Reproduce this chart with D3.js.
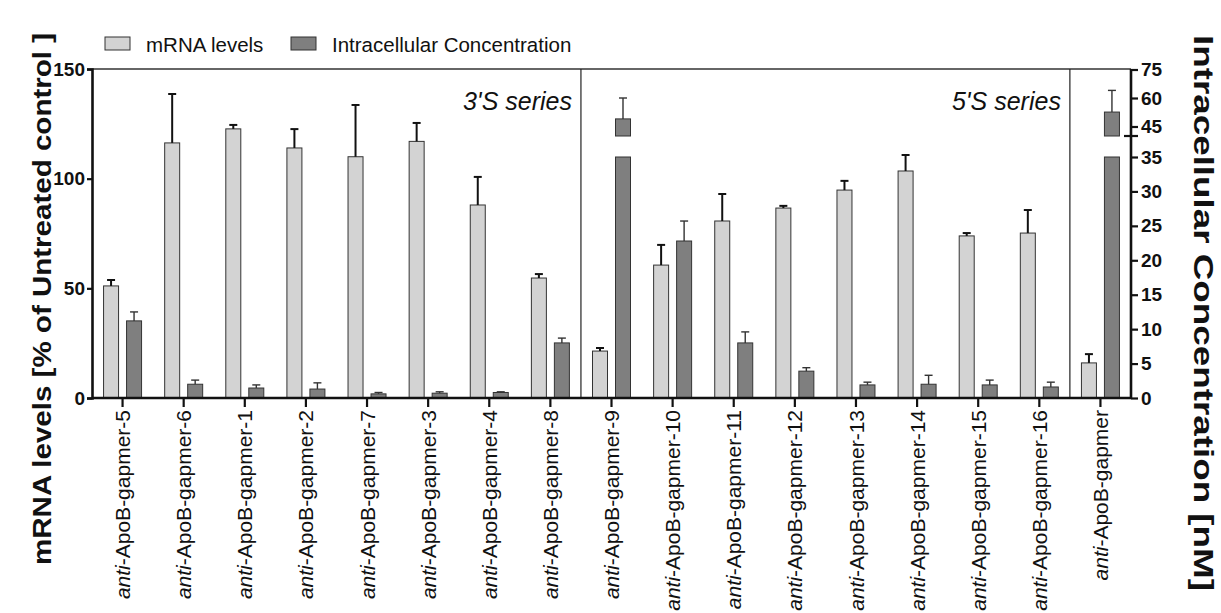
<!DOCTYPE html>
<html><head><meta charset="utf-8">
<script src="https://cdn.jsdelivr.net/npm/d3@7"></script>
<style>body{margin:0;background:#fff}svg{display:block;font-family:Arial,"Liberation Sans",sans-serif}</style>
</head><body><svg id="c" width="1221" height="613"></svg>
<script>
const categories = ["gapmer-5","gapmer-6","gapmer-1","gapmer-2","gapmer-7","gapmer-3","gapmer-4","gapmer-8","gapmer-9","gapmer-10","gapmer-11","gapmer-12","gapmer-13","gapmer-14","gapmer-15","gapmer-16","gapmer"];
const mrna    = [51.1,116.3,122.7,114,110,117,88,54.7,21.4,60.6,80.7,86.6,94.8,103.5,73.9,75.2,16];
const mrnaErr = [2.7,22.3,1.8,8.6,23.6,8.4,12.8,1.8,1.4,9.2,12.3,1.0,4.2,7.3,1.3,10.5,4];
const conc    = [11.2,2.0,1.45,1.3,0.6,0.7,0.8,8.0,49,22.8,8.0,3.9,1.9,2.0,1.9,1.6,52.6];
const concErr = [1.3,0.6,0.45,0.9,0.2,0.2,0.1,0.7,11,2.9,1.6,0.5,0.4,1.3,0.7,0.7,11.4];
const leftTicks = [0,50,100,150];
const rightLowTicks = [0,5,10,15,20,25,30,35];
const rightHighTicks = [45,60,75];
const seriesLabels = [{text:"3'S series", from:0, to:7},{text:"5'S series", from:8, to:15}];

const svg = d3.select("#c");
const L = 92, R = 1131, T = 69, B = 398;
const x = d3.scaleBand(categories, [L, R]).padding(0);
const yL = d3.scaleLinear([0,150],[B,T]);
const yRlow = d3.scaleLinear([0,35],[B,157]);
const yRhigh = d3.scaleLinear([40,75],[136,69.5]);
const lightFill = "#d3d3d3", darkFill = "#7f7f7f", stroke = "#333";
const bw = 15, off = 11.5;

svg.append("line").attr("x1",L).attr("x2",R).attr("y1",T).attr("y2",T).attr("stroke","#333").attr("stroke-width",1.3);
[8,16].forEach(i=>{
  svg.append("line").attr("x1",x(categories[i])).attr("x2",x(categories[i])).attr("y1",T).attr("y2",B).attr("stroke","#222").attr("stroke-width",1.2);
});

const g = svg.append("g");
categories.forEach((c,i)=>{
  const cx = x(c) + x.bandwidth()/2;
  const xl = cx - off - bw/2;
  g.append("rect").attr("x",xl).attr("y",yL(mrna[i])).attr("width",bw).attr("height",B-yL(mrna[i]))
    .attr("fill",lightFill).attr("stroke",stroke).attr("stroke-width",1);
  const ey = yL(mrna[i]+mrnaErr[i]);
  g.append("line").attr("x1",cx-off).attr("x2",cx-off).attr("y1",yL(mrna[i])).attr("y2",ey).attr("stroke","#111").attr("stroke-width",2);
  g.append("line").attr("x1",cx-off-4).attr("x2",cx-off+4).attr("y1",ey).attr("y2",ey).attr("stroke","#111").attr("stroke-width",2);
  const xd = cx + off - bw/2;
  const v = conc[i];
  const yr = val => val<=35 ? yRlow(val) : yRhigh(val);
  if (v <= 35) {
    g.append("rect").attr("x",xd).attr("y",yRlow(v)).attr("width",bw).attr("height",B-yRlow(v))
      .attr("fill",darkFill).attr("stroke",stroke).attr("stroke-width",1);
  } else {
    g.append("rect").attr("x",xd).attr("y",yRlow(35)).attr("width",bw).attr("height",B-yRlow(35))
      .attr("fill",darkFill).attr("stroke",stroke).attr("stroke-width",1);
    g.append("rect").attr("x",xd).attr("y",yRhigh(v)).attr("width",bw).attr("height",yRhigh(40)-yRhigh(v))
      .attr("fill",darkFill).attr("stroke",stroke).attr("stroke-width",1);
  }
  const ey2 = yr(v+concErr[i]);
  g.append("line").attr("x1",cx+off).attr("x2",cx+off).attr("y1",yr(v)).attr("y2",ey2).attr("stroke","#333").attr("stroke-width",1.4);
  g.append("line").attr("x1",cx+off-4).attr("x2",cx+off+4).attr("y1",ey2).attr("y2",ey2).attr("stroke","#333").attr("stroke-width",1.4);
});

const axL = svg.append("g").attr("transform",`translate(${L},0)`)
  .call(d3.axisLeft(yL).tickValues(leftTicks).tickSize(5).tickPadding(2));
const axRlow = svg.append("g").attr("transform",`translate(${R},0)`)
  .call(d3.axisRight(yRlow).tickValues(rightLowTicks).tickSize(7).tickPadding(3));
const axRhigh = svg.append("g").attr("transform",`translate(${R},0)`)
  .call(d3.axisRight(yRhigh).tickValues(rightHighTicks).tickSize(7).tickPadding(3));
const axX = svg.append("g").attr("transform",`translate(0,${B})`)
  .call(d3.axisBottom(x).tickSize(9).tickFormat(""));
[axL,axRlow,axRhigh,axX].forEach(a=>{
  a.selectAll(".domain").attr("stroke","#111").attr("stroke-width",2.6);
  a.selectAll(".tick line").attr("stroke","#111").attr("stroke-width",2.2);
  a.selectAll("text").attr("font-size",19).attr("font-weight","bold").attr("fill","#111")
    .attr("font-family","Arial,'Liberation Sans',sans-serif");
});
axRlow.select(".domain").remove();
axRhigh.select(".domain").remove();
svg.append("line").attr("x1",R).attr("x2",R).attr("y1",T).attr("y2",B).attr("stroke","#111").attr("stroke-width",2.6);
svg.append("line").attr("x1",R-7).attr("x2",R+7).attr("y1",yRhigh(40)).attr("y2",yRhigh(40)).attr("stroke","#111").attr("stroke-width",2.2);
axX.select(".domain").attr("d",`M${L},0H${R}`);

categories.forEach(c=>{
  const cx = x(c)+x.bandwidth()/2;
  const t = svg.append("text").attr("transform",`translate(${cx},${B+12}) rotate(-90)`)
    .attr("text-anchor","end").attr("dy","0.36em").attr("font-size",21).attr("fill","#111");
  t.append("tspan").attr("font-style","italic").text("anti");
  t.append("tspan").text("-ApoB-"+c);
});

seriesLabels.forEach(s=>{
  const xr = x(categories[s.to]) + x.bandwidth() - 9;
  svg.append("text").attr("x",xr).attr("y",110).attr("text-anchor","end")
    .attr("font-size",25).attr("font-style","italic").attr("fill","#111").text(s.text);
});

svg.append("text").attr("transform","translate(51,299) rotate(-90)").attr("text-anchor","middle")
  .attr("font-size",26).attr("font-weight","bold").attr("fill","#111")
  .attr("textLength",532).attr("lengthAdjust","spacingAndGlyphs")
  .text("mRNA levels [% of Untreated control ]");
svg.append("text").attr("transform","translate(1194,313) rotate(90)").attr("text-anchor","middle")
  .attr("font-size",27).attr("font-weight","bold").attr("fill","#111")
  .attr("textLength",556).attr("lengthAdjust","spacingAndGlyphs")
  .text("Intracellular Concentration [nM]");

const legend = [{label:"mRNA levels", fill:lightFill, x:105},{label:"Intracellular Concentration", fill:darkFill, x:291}];
legend.forEach(l=>{
  svg.append("rect").attr("x",l.x).attr("y",37).attr("width",25).attr("height",13).attr("fill",l.fill).attr("stroke",stroke).attr("stroke-width",1);
  svg.append("text").attr("x",l.x+41).attr("y",52).attr("font-size",20.5).attr("fill","#111").text(l.label);
});
</script></body></html>
